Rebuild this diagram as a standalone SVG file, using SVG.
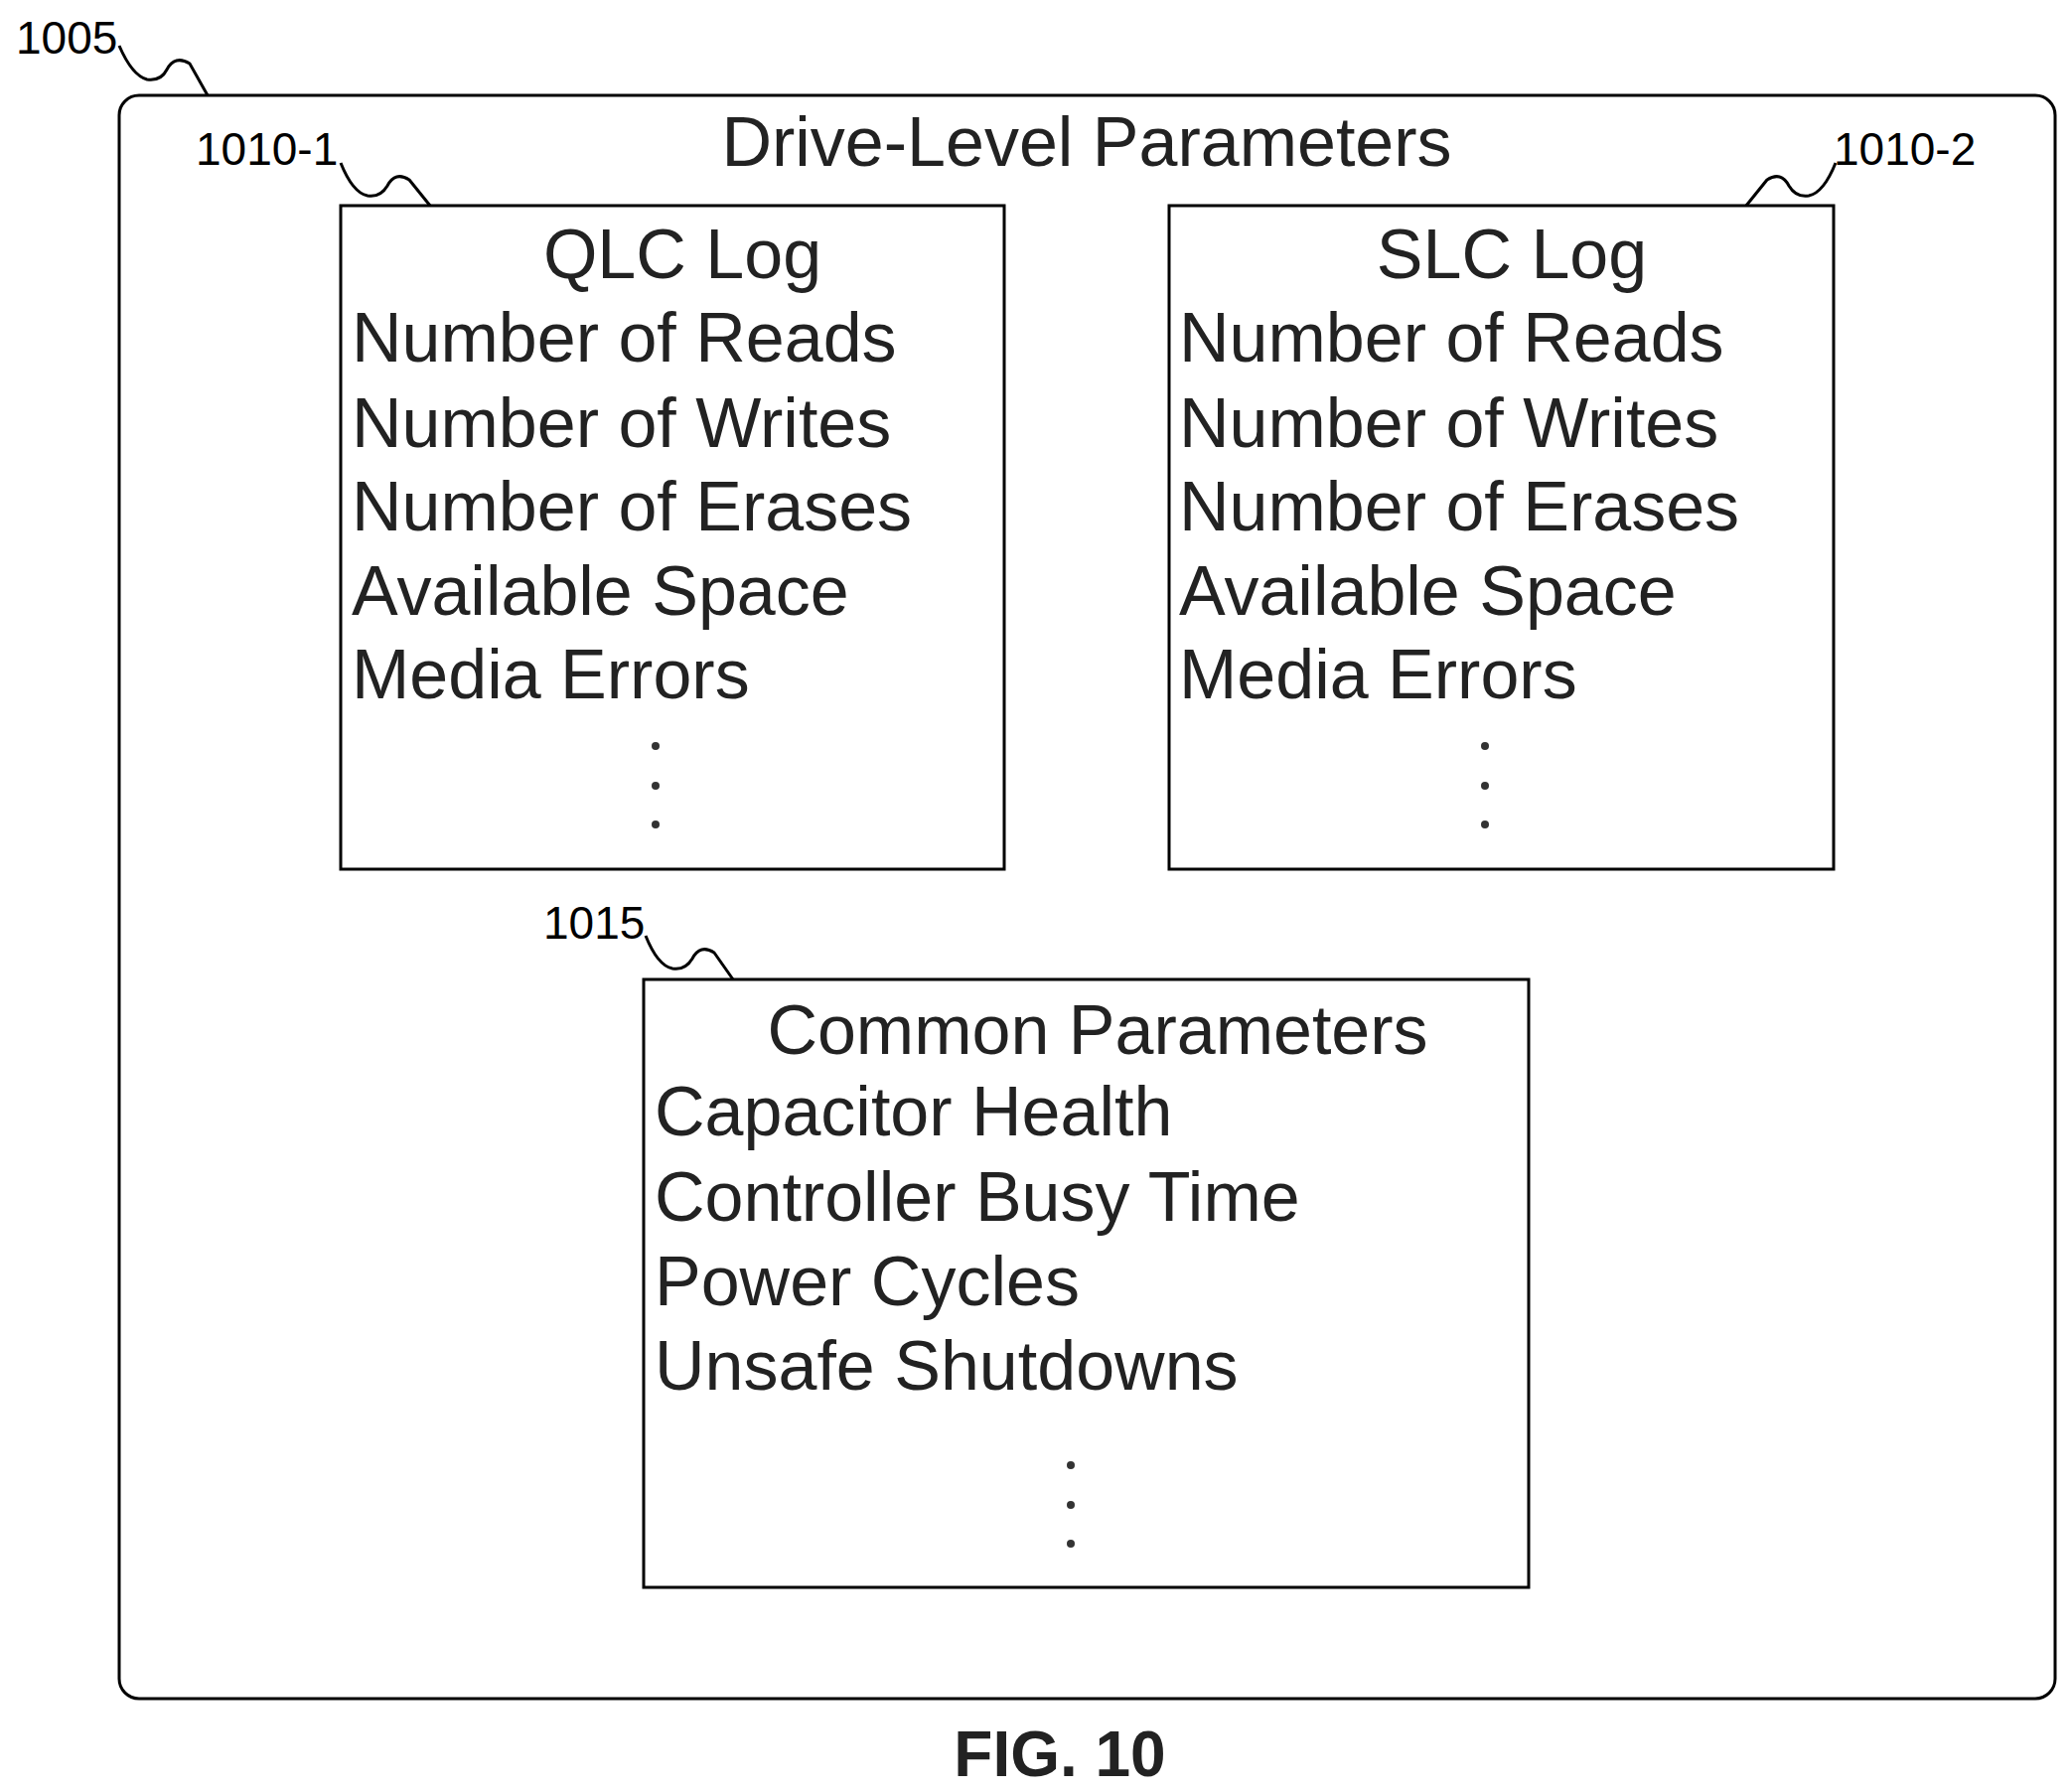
<svg xmlns="http://www.w3.org/2000/svg" width="2086" height="1804" viewBox="0 0 2086 1804">
<style>
.box{fill:#fff;stroke:#000;stroke-width:3}
.t{font-family:"Liberation Sans",Arial,sans-serif;font-size:70px;fill:#222}
.c{text-anchor:middle}
.lbl{font-family:"Liberation Sans",Arial,sans-serif;font-size:46px;fill:#000}
.ld{fill:none;stroke:#000;stroke-width:3}
.dot{fill:#333}
</style>
<rect width="2086" height="1804" fill="#fff"/>
<g id="n1005">
<rect class="box" x="120" y="96" width="1949" height="1614" rx="20"/>
<text class="t c" x="1094" y="167">Drive-Level Parameters</text>
<text class="lbl" x="16" y="54">1005</text>
</g>
<g id="n1010-1">
<rect class="box" x="343" y="207" width="668" height="668"/>
<text class="t c" x="687" y="280">QLC Log</text>
<text class="t" x="354" y="364">Number of Reads</text>
<text class="t" x="354" y="450">Number of Writes</text>
<text class="t" x="354" y="534">Number of Erases</text>
<text class="t" x="354" y="619">Available Space</text>
<text class="t" x="354" y="703">Media Errors</text>
<circle class="dot" cx="660" cy="751" r="4"/><circle class="dot" cx="660" cy="791" r="4"/><circle class="dot" cx="660" cy="830" r="4"/>
<text class="lbl" x="197" y="166">1010-1</text>
</g>
<g id="n1010-2">
<rect class="box" x="1177" y="207" width="669" height="668"/>
<text class="t c" x="1522" y="280">SLC Log</text>
<text class="t" x="1187" y="364">Number of Reads</text>
<text class="t" x="1187" y="450">Number of Writes</text>
<text class="t" x="1187" y="534">Number of Erases</text>
<text class="t" x="1187" y="619">Available Space</text>
<text class="t" x="1187" y="703">Media Errors</text>
<circle class="dot" cx="1495" cy="751" r="4"/><circle class="dot" cx="1495" cy="791" r="4"/><circle class="dot" cx="1495" cy="830" r="4"/>
<text class="lbl" x="1846" y="166">1010-2</text>
</g>
<g id="n1015">
<rect class="box" x="648" y="986" width="891" height="612"/>
<text class="t c" x="1105" y="1061">Common Parameters</text>
<text class="t" x="659" y="1143">Capacitor Health</text>
<text class="t" x="659" y="1229">Controller Busy Time</text>
<text class="t" x="659" y="1314">Power Cycles</text>
<text class="t" x="659" y="1399">Unsafe Shutdowns</text>
<circle class="dot" cx="1078" cy="1475" r="4"/><circle class="dot" cx="1078" cy="1515" r="4"/><circle class="dot" cx="1078" cy="1554" r="4"/>
<text class="lbl" x="547" y="945">1015</text>
</g>
<g id="connectors">
<path class="ld" d="M120,46 Q133,76 148,80 Q162,82 168,70 Q176,55 191,64 L209,96"/>
<path class="ld" d="M343,164 Q355,194 370,197 Q383,199 390,187 Q398,172 412,181 L433,207"/>
<path class="ld" d="M1848,164 Q1836,194 1821,197 Q1808,199 1801,187 Q1793,172 1779,181 L1758,207"/>
<path class="ld" d="M650,942 Q662,972 677,975 Q690,977 697,965 Q705,950 719,959 L738,986"/>
</g>
<text x="1067" y="1788" text-anchor="middle" font-family="Liberation Sans,Arial,sans-serif" font-weight="bold" font-size="64" fill="#222">FIG. 10</text>
</svg>
